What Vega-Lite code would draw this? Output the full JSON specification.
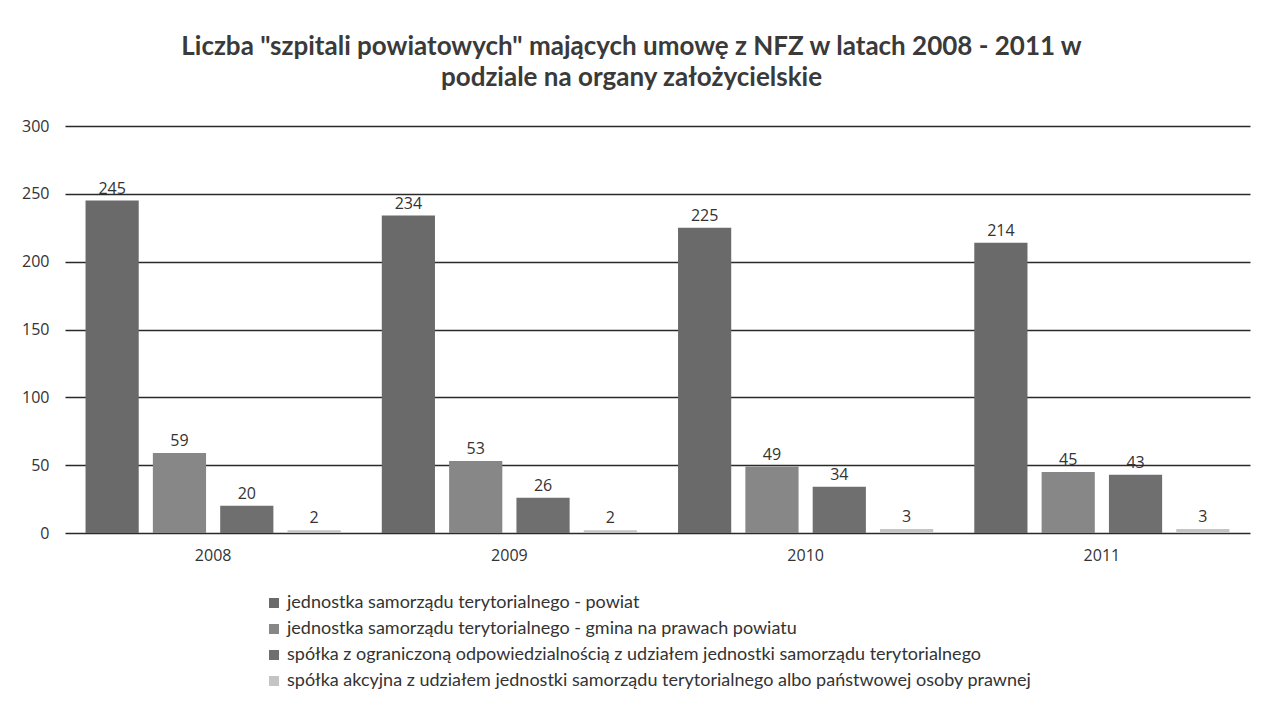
{
  "$schema": "https://vega.github.io/schema/vega-lite/v6.json",
  "autosize": {"type": "none"},
  "width": 1185,
  "height": 407,
  "padding": {"left": 65, "top": 126, "right": 18, "bottom": 178},
  "background": "white",
  "title": {
    "text": ["Liczba \"szpitali powiatowych\" mających umowę z NFZ w latach 2008 - 2011 w", "podziale na organy założycielskie"],
    "font": "Lato",
    "fontSize": 26,
    "fontWeight": "bold",
    "color": "#3a3a3a",
    "lineHeight": 31,
    "anchor": "middle",
    "dx": -26,
    "offset": 27
  },
  "data": {
    "values": [
      {"rok": "2008", "organ": "jednostka samorządu terytorialnego - powiat", "liczba": 245},
      {"rok": "2008", "organ": "jednostka samorządu terytorialnego - gmina na prawach powiatu", "liczba": 59},
      {"rok": "2008", "organ": "spółka z ograniczoną odpowiedzialnością z udziałem jednostki samorządu terytorialnego", "liczba": 20},
      {"rok": "2008", "organ": "spółka akcyjna z udziałem jednostki samorządu terytorialnego albo państwowej osoby prawnej", "liczba": 2},
      {"rok": "2009", "organ": "jednostka samorządu terytorialnego - powiat", "liczba": 234},
      {"rok": "2009", "organ": "jednostka samorządu terytorialnego - gmina na prawach powiatu", "liczba": 53},
      {"rok": "2009", "organ": "spółka z ograniczoną odpowiedzialnością z udziałem jednostki samorządu terytorialnego", "liczba": 26},
      {"rok": "2009", "organ": "spółka akcyjna z udziałem jednostki samorządu terytorialnego albo państwowej osoby prawnej", "liczba": 2},
      {"rok": "2010", "organ": "jednostka samorządu terytorialnego - powiat", "liczba": 225},
      {"rok": "2010", "organ": "jednostka samorządu terytorialnego - gmina na prawach powiatu", "liczba": 49},
      {"rok": "2010", "organ": "spółka z ograniczoną odpowiedzialnością z udziałem jednostki samorządu terytorialnego", "liczba": 34},
      {"rok": "2010", "organ": "spółka akcyjna z udziałem jednostki samorządu terytorialnego albo państwowej osoby prawnej", "liczba": 3},
      {"rok": "2011", "organ": "jednostka samorządu terytorialnego - powiat", "liczba": 214},
      {"rok": "2011", "organ": "jednostka samorządu terytorialnego - gmina na prawach powiatu", "liczba": 45},
      {"rok": "2011", "organ": "spółka z ograniczoną odpowiedzialnością z udziałem jednostki samorządu terytorialnego", "liczba": 43},
      {"rok": "2011", "organ": "spółka akcyjna z udziałem jednostki samorządu terytorialnego albo państwowej osoby prawnej", "liczba": 3}
    ]
  },
  "encoding": {
    "x": {
      "field": "rok", "type": "nominal",
      "scale": {"paddingInner": 0, "paddingOuter": 0},
      "axis": {"title": null, "labelAngle": 0, "domain": false, "ticks": false, "labelPadding": 14, "labelFont": "Open Sans", "labelFontSize": 16, "labelColor": "#333"}
    },
    "xOffset": {
      "field": "organ", "type": "nominal",
      "sort": ["jednostka samorządu terytorialnego - powiat", "jednostka samorządu terytorialnego - gmina na prawach powiatu", "spółka z ograniczoną odpowiedzialnością z udziałem jednostki samorządu terytorialnego", "spółka akcyjna z udziałem jednostki samorządu terytorialnego albo państwowej osoby prawnej"],
      "scale": {"paddingInner": 0.21, "paddingOuter": 0.305}
    },
    "y": {
      "field": "liczba", "type": "quantitative",
      "scale": {"domain": [0, 300]},
      "axis": {"title": null, "values": [0, 50, 100, 150, 200, 250, 300], "domain": false, "ticks": false, "labelPadding": 16, "labelFont": "Open Sans", "labelFontSize": 16, "labelColor": "#333", "grid": true, "gridColor": "#2a2a2a", "gridWidth": 1.3}
    }
  },
  "layer": [
    {
      "mark": {"type": "bar"},
      "encoding": {
        "color": {
          "field": "organ", "type": "nominal",
          "sort": ["jednostka samorządu terytorialnego - powiat", "jednostka samorządu terytorialnego - gmina na prawach powiatu", "spółka z ograniczoną odpowiedzialnością z udziałem jednostki samorządu terytorialnego", "spółka akcyjna z udziałem jednostki samorządu terytorialnego albo państwowej osoby prawnej"],
          "scale": {
            "domain": ["jednostka samorządu terytorialnego - powiat", "jednostka samorządu terytorialnego - gmina na prawach powiatu", "spółka z ograniczoną odpowiedzialnością z udziałem jednostki samorządu terytorialnego", "spółka akcyjna z udziałem jednostki samorządu terytorialnego albo państwowej osoby prawnej"],
            "range": ["#6a6a6a", "#878787", "#6f6f6f", "#c4c4c4"]
          },
          "legend": {
            "title": null,
            "orient": "none",
            "legendX": 200,
            "legendY": 468,
            "symbolType": "square",
            "symbolSize": 100,
            "symbolStrokeWidth": 0,
            "labelFont": "Lato",
            "labelFontSize": 18,
            "labelColor": "#333",
            "labelLimit": 1100,
            "rowPadding": 8,
            "labelOffset": 4
          }
        }
      }
    },
    {
      "mark": {"type": "text", "baseline": "bottom", "dy": -4, "font": "Open Sans", "fontSize": 16, "color": "#333"},
      "encoding": {
        "text": {"field": "liczba", "type": "quantitative"}
      }
    }
  ],
  "config": {"view": {"stroke": null}}
}
